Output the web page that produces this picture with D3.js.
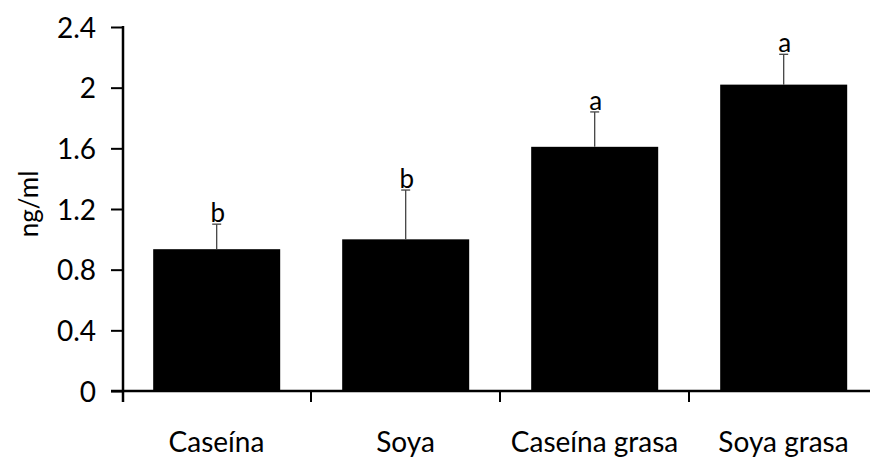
<!DOCTYPE html>
<html><head><meta charset="utf-8">
<script src="https://cdn.jsdelivr.net/npm/d3@7"></script>
<style>body{margin:0;background:#fff}svg{display:block}text{font-family:Lato,"Open Sans",sans-serif;fill:#000}</style>
</head><body><svg id="c" width="870" height="460"></svg>
<script>
const categories = ["Caseína", "Soya", "Caseína grasa", "Soya grasa"];
const means = [0.935, 1.0, 1.61, 2.02];
const errors = [0.165, 0.325, 0.23, 0.20];
const letters = ["b", "b", "a", "a"];
const yTicks = [0, 0.4, 0.8, 1.2, 1.6, 2, 2.4];
const yTickLabels = ["0", "0.4", "0.8", "1.2", "1.6", "2", "2.4"];

const svg = d3.select("#c");
const x = d3.scaleBand().domain(categories).range([122, 878]).padding(0);
const y = d3.scaleLinear().domain([0, 2.4]).range([391, 27]);
const bw = x.bandwidth();
const barOff = bw * 0.165, barW = bw * 0.672;

// bars
svg.selectAll("rect.bar").data(categories).enter().append("rect")
  .attr("x", d => x(d) + barOff).attr("width", barW)
  .attr("y", (d, i) => y(means[i])).attr("height", (d, i) => y(0) - y(means[i]))
  .attr("fill", "#000");

// error bars
const cx = d => x(d) + barOff + barW / 2;
svg.selectAll("line.err").data(categories).enter().append("line")
  .attr("x1", cx).attr("x2", cx)
  .attr("y1", (d, i) => y(means[i])).attr("y2", (d, i) => y(means[i] + errors[i]))
  .attr("stroke", "#444").attr("stroke-width", 1.3);
svg.selectAll("line.cap").data(categories).enter().append("line")
  .attr("x1", d => cx(d) - 4.5).attr("x2", d => cx(d) + 4.5)
  .attr("y1", (d, i) => y(means[i] + errors[i])).attr("y2", (d, i) => y(means[i] + errors[i]))
  .attr("stroke", "#444").attr("stroke-width", 1.3);

// letters
svg.selectAll("text.let").data(categories).enter().append("text")
  .attr("x", d => cx(d) + 1).attr("y", (d, i) => y(means[i] + errors[i]) - 2)
  .attr("text-anchor", "middle").style("font-size", "26px")
  .text((d, i) => letters[i]);

// y axis
const yAxis = d3.axisLeft(y).tickValues(yTicks).tickFormat((d, i) => yTickLabels[i])
  .tickSize(12).tickPadding(15);
const gy = svg.append("g").attr("transform", "translate(123,0)").call(yAxis);
gy.attr("font-size", null).attr("font-family", null);
gy.select(".domain").remove();
gy.selectAll(".tick line").attr("stroke", "#000").attr("stroke-width", 2);
gy.selectAll(".tick text").style("font-size", "28px").attr("fill", "#000").attr("dy", "0.36em");
svg.append("line").attr("x1", 123).attr("x2", 123).attr("y1", y(2.4) - 1).attr("y2", 402)
  .attr("stroke", "#000").attr("stroke-width", 2.5);

// x axis
svg.append("line").attr("x1", 111).attr("x2", 870).attr("y1", y(0)).attr("y2", y(0))
  .attr("stroke", "#000").attr("stroke-width", 2.5);
svg.selectAll("line.xt").data(categories.slice(1)).enter().append("line")
  .attr("x1", d => x(d)).attr("x2", d => x(d)).attr("y1", y(0)).attr("y2", 402)
  .attr("stroke", "#000").attr("stroke-width", 2);
svg.selectAll("text.cat").data(categories).enter().append("text")
  .attr("x", d => x(d) + bw / 2).attr("y", 452)
  .attr("text-anchor", "middle").style("font-size", "28px").text(d => d);

// y label
svg.append("text").attr("transform", "translate(38,204) rotate(-90)")
  .attr("text-anchor", "middle").style("font-size", "26px").text("ng/ml");
</script></body></html>
